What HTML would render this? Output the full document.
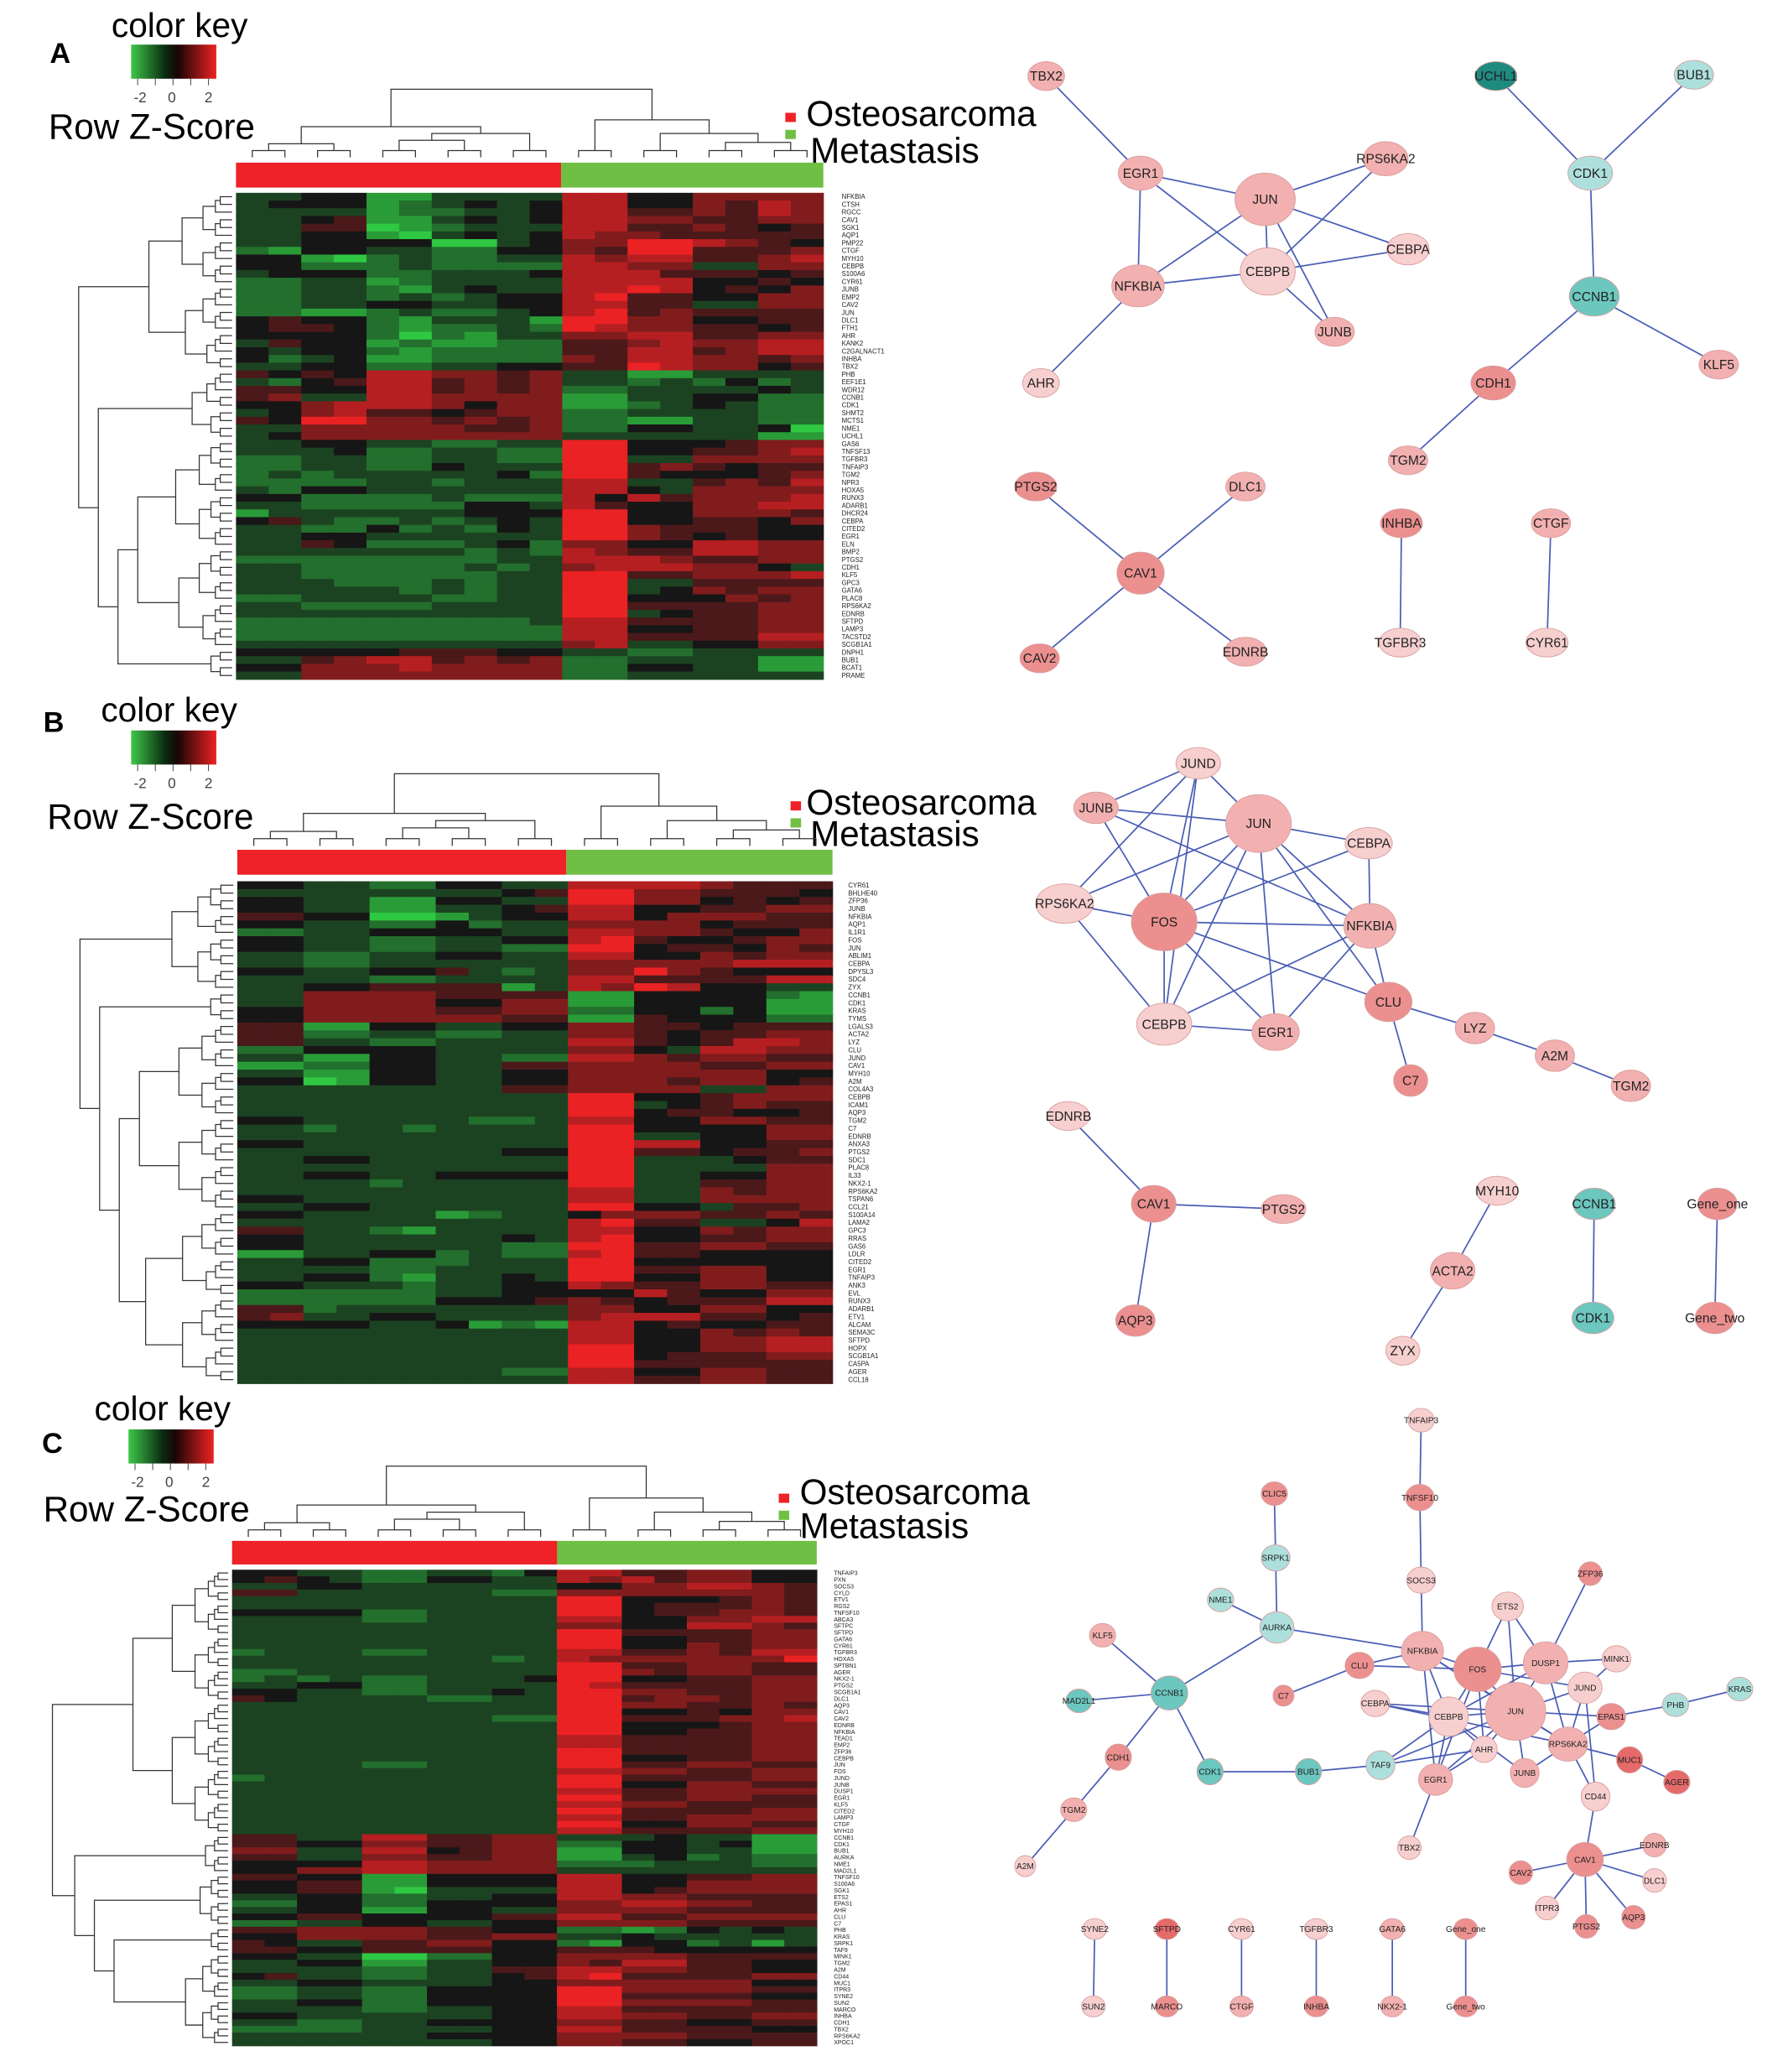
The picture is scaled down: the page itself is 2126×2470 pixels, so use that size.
<!DOCTYPE html>
<html><head><meta charset="utf-8"><style>
html,body{margin:0;padding:0;background:#fff;}
svg{display:block;}
text{font-family:"Liberation Sans",sans-serif;}
</style></head><body>
<svg id="fig" width="2126" height="2470" viewBox="0 0 1360 1580" xmlns="http://www.w3.org/2000/svg">
<rect width="1360" height="1580" fill="#fff"/>
</svg>
<script>
const NS="http://www.w3.org/2000/svg";
const svg=document.getElementById('fig');
function el(tag,attrs,parent,txt){const e=document.createElementNS(NS,tag);for(const k in attrs)e.setAttribute(k,attrs[k]);if(txt!==undefined)e.textContent=txt;(parent||svg).appendChild(e);return e;}

// ===== heatmap data (codes 0..8 => z -2..+2; 10 osteosarcoma cols + 8 metastasis cols) =====
const rowsA=["334411333377446666","344412343477446576","333312233477556576","334511343477665566","335501233377556545","334410343476655555","334444003466887654","214433224465885556","441023223376775567","442223222277663366","344422333477755545","223312333377774454","223321343377874546","223323234478554466","223344334477553366","221123223478565555","454421333188664455","455421223287665545","444420213366775566","354412112255676677","434421222255775677","423411222265776656","334422334455876645","545477665633113333","324577565633232423","554477565622333343","563377666611334422","446777646611234322","346755456622333322","548866565622113322","336666655622443340","346666666633333311","334433223388444566","333422332288445567","223322332288336666","223322433388565455","232333334288544456","222233233377335657","324433333377436666","442222322274756667","332222244375446677","133333344488446665","453223234388445546","332242324388655544","334433333388654544","335422234266447766","333333323276557766","222222223377765566","332222232367776643","332222223388556667","333222323388335555","333332323388346566","223333223388444656","332222333388555566","333333333388345566","222222222377555566","222222222277445566","222222222277555577","333333333367334466","444445554433223333","335677565622333311","446667666622443311","336666666622333333"];
const labelsA=["NFKBIA","CTSH","RGCC","CAV1","SGK1","AQP1","PMP22","CTGF","MYH10","CEBPB","S100A6","CYR61","JUNB","EMP2","CAV2","JUN","DLC1","FTH1","AHR","KANK2","C2GALNACT1","INHBA","TBX2","PHB","EEF1E1","WDR12","CCNB1","CDK1","SHMT2","MCTS1","NME1","UCHL1","GAS6","TNFSF13","TGFBR3","TNFAIP3","TGM2","NPR3","HOXA5","RUNX3","ADARB1","DHCR24","CEBPA","CITED2","EGR1","ELN","BMP2","PTGS2","CDH1","KLF5","GPC3","GATA6","PLAC8","RPS6KA2","EDNRB","SFTPD","LAMP3","TACSTD2","SCGB1A1","DNPH1","BUB1","BCAT1","PRAME"];
const rowsB=["443322443377776555","333333334588665554","443311443388664545","443311334577445566","554400134477466655","443322423366664555","223344443377665446","443322334478544566","443322332288455465","332233443377446566","332233333366666777","443344532366865444","333322333377555577","334455551376874433","336666555511444421","336666446611444411","446666556622442411","446666665511544422","551144334466554555","552233223366545566","553322333377545776","224444333366437766","331144332277656655","112244335566665566","331144334466666644","440144334466656645","333333335566663366","333333333388445666","333333333388345655","333333333388455445","443333322377446655","332332333388444466","333333333388334466","443333333388774455","333333334488554556","334433333388333455","333333333388333366","334433444488334466","333323333388335566","333333333377336566","443333333377336666","334433333388443556","443333123346665565","333333333378553347","553321333377446566","443333334378445566","443333332288556655","113344232278554444","334422233388444444","333322333388556644","334421334388446644","443332334476556655","222222334444754466","222222444565455577","552333333366446644","563344333367775545","444433412177454455","333333333377446565","333333333377446677","333333333388446677","333333333388455566","333333333388555555","333333332277446655","333333333377556655"];
const labelsB=["CYR61","BHLHE40","ZFP36","JUNB","NFKBIA","AQP1","IL1R1","FOS","JUN","ABLIM1","CEBPA","DPYSL3","SDC4","ZYX","CCNB1","CDK1","KRAS","TYMS","LGALS3","ACTA2","LYZ","CLU","JUND","CAV1","MYH10","A2M","COL4A3","CEBPB","ICAM1","AQP3","TGM2","C7","EDNRB","ANXA3","PTGS2","SDC1","PLAC8","IL33","NKX2-1","RPS6KA2","TSPAN6","CCL21","S100A14","LAMA2","GPC3","RRAS","GAS6","LDLR","CITED2","EGR1","TNFAIP3","ANK3","EVL","RUNX3","ADARB1","ETV1","ALCAM","SEMA3C","SFTPD","HOPX","SCGB1A1","CA5PA","AGER","CCL18"];
const rowsC=["443322332477556644","454322443376756644","334433333344667765","553333332266666665","333333333388444565","333333333388455565","444422333388455665","333322333377446677","333333333366447765","333333333388555566","333333333388445566","333333333388446566","233322333377556577","333333332376666668","333333333388556655","223333333388656655","232322333488445566","334422333387555566","443322334388665566","543333223388566566","333333333388665565","333333333388445466","333333332288555667","333333333388444566","333333333388445566","333333333377555566","333333333377555566","333333333388555566","333333333388445566","333322333388556655","333333333377665566","233333333388555566","333333333388446655","333333333377556666","333333333388556655","333333333377665555","333333333388555566","333333333377556666","333333333388446655","333333333377555566","553377556633343311","554466556622443411","663377456611443311","553366556611342322","444477666622233322","446677666633333333","554411444477445566","445511444477446666","445510333377456666","334422334477665555","224422444466776655","334411443366665555","445544445577556666","223344334466665555","556666554422124343","446666556633433333","543355664421442313","554455554455544444","443300224466665555","334411334465775544","333322335577665544","453322334578555566","334433334466666644","223322444488666655","223322444488555544","334422444488666655","333322334477555555","443333334477665566","332233444466554455","222233334477555544","333333444466665555","333333334466554455"];
const labelsC=["TNFAIP3","PXN","SOCS3","CYLD","ETV1","RGS2","TNFSF10","ABCA3","SFTPC","SFTPD","GATA6","CYR61","TGFBR3","HOXA5","SPTBN1","AGER","NKX2-1","PTGS2","SCGB1A1","DLC1","AQP3","CAV1","CAV2","EDNRB","NFKBIA","TEAD1","EMP2","ZFP36","CEBPB","JUN","FOS","JUND","JUNB","DUSP1","EGR1","KLF5","CITED2","LAMP3","CTGF","MYH10","CCNB1","CDK1","BUB1","AURKA","NME1","MAD2L1","TNFSF10","S100A6","SGK1","ETS2","EPAS1","AHR","CLU","C7","PHB","KRAS","SRPK1","TAF9","MINK1","TGM2","A2M","CD44","MUC1","ITPR3","SYNE2","SUN2","MARCO","INHBA","CDH1","TBX2","RPS6KA2","XPOC1"];

function cellColor(c){const v=(c-4)/4,t=Math.abs(v);
 if(v<0)return `rgb(${Math.round(22+25*t)},${Math.round(22+178*t)},${Math.round(22+45*t)})`;
 return `rgb(${Math.round(22+213*t)},${Math.round(22+12*t)},${Math.round(22+14*t)})`;}

function heatmap(id,x0,y0,x1,y1,rows,labels,labelX,lfs,splits){
 const g=el('g',{},svg);
 
 
 const nr=rows.length,nc=18,cw=(x1-x0)/nc,rh=(y1-y0)/nr;
 rows.forEach((r,i)=>{for(let j=0;j<nc;j++){
  const c=el('rect',{x:(x0+j*cw).toFixed(2),y:(y0+i*rh).toFixed(2),width:(cw+0.4).toFixed(2),height:(rh+0.4).toFixed(2),fill:cellColor(+r[j])},g);
  
  }});
 const lg=el('g',{},svg);
 
 
 labels.forEach((l,i)=>{el('text',{x:labelX,y:(y0+(i+0.5)*(y1-y0)/labels.length+lfs*0.35).toFixed(2),'font-size':lfs,fill:'#222'},lg,l);});
 // row dendrogram
 const dg=el('g',{fill:'none',stroke:'#333','stroke-width':0.8},svg);
 
 
 const dr=x0-3;
 const maxN=Math.max(...splits.concat([nr]).map((s,k,a)=>s-(k?a[k-1]:0)));
 function tree(lo,hi){
  if(lo===hi)return [dr,y0+(lo+0.5)*rh];
  const mid=Math.floor((lo+hi)/2);
  const a=tree(lo,mid),b=tree(mid+1,hi);
  const n=hi-lo+1;const x=dr-4-70*Math.pow((n-1)/maxN,0.8);
  el('path',{d:`M${a[0]},${a[1]}H${x}V${b[1]}H${b[0]}`},dg);
  return [x,(a[1]+b[1])/2];}
 let lo=0;const pts=[];
 splits.concat([nr]).forEach(s=>{pts.push(tree(lo,s-1));lo=s;});
 let cur=pts[pts.length-1];
 const xs=[x0-90,x0-105,x0-120,x0-137];
 for(let k=pts.length-2;k>=0;k--){const x=xs[Math.min(pts.length-2-k,3)];
  el('path',{d:`M${pts[k][0]},${pts[k][1]}H${x}V${cur[1]}H${cur[0]}`},dg);cur=[x,(pts[k][1]+cur[1])/2];}
}
function colDendro(id,x0,cw,ytop,ybot){
 const g=el('g',{fill:'none',stroke:'#333','stroke-width':0.8},svg);
 
 
 const H=ybot-ytop;
 function lf(i){return [x0+(i+0.5)*cw,ybot];}
 function join(a,b,h){const y=ybot-h*H;el('path',{d:`M${a[0]},${a[1]}V${y}H${b[0]}V${b[1]}`},g);return [(a[0]+b[0])/2,y];}
 const p=[];for(let i=0;i<10;i+=2)p.push(join(lf(i),lf(i+1),0.1));
 const o1=join(p[0],p[1],0.2),o2=join(p[2],p[3],0.25),o3=join(o2,p[4],0.35),o=join(o1,o3,0.45);
 const q=[];for(let i=10;i<18;i+=2)q.push(join(lf(i),lf(i+1),0.1));
 const m1=join(q[2],q[3],0.22),m2=join(q[1],m1,0.35),m=join(q[0],m2,0.55);
 join(o,m,1.0);
}
function annotBar(id,x0,xs,x1,y0,y1){
 const a=el('rect',{x:x0,y:y0,width:xs-x0,height:y1-y0,fill:'#ee2227'});
 
 const b=el('rect',{x:xs,y:y0,width:x1-xs,height:y1-y0,fill:'#6fbf44'});
 
}
function keyLegend(id,letter,lx,ly,ckx,cky,bx,by,rzx,rzy,sqx,sqy,osx,osy,mtx,mty){
 const g=el('g',{},svg);
 
 
 const t=el('text',{x:lx,y:ly,'font-size':22,'font-weight':'bold','font-family':'Liberation Serif, serif'},g,letter);
 
 el('text',{x:ckx,y:cky,'font-size':26},g,'color key');
 const gid='grad'+id;const defs=el('defs',{},g);const lg=el('linearGradient',{id:gid},defs);
 [['0','#3ec84a'],['0.4','#0a2a10'],['0.55','#1a0505'],['1','#ee2222']].forEach(s=>el('stop',{offset:s[0],'stop-color':s[1]},lg));
 el('rect',{x:bx,y:by,width:65,height:26,fill:`url(#${gid})`},g);
 [0,1,2,3,4].forEach(i=>el('line',{x1:bx+5+i*13.5,x2:bx+5+i*13.5,y1:by+26,y2:by+31,stroke:'#555','stroke-width':0.7},g));
 [['-2',bx+2],['0',bx+28],['2',bx+56]].forEach(s=>el('text',{x:s[1],y:by+44,'font-size':11,fill:'#444'},g,s[0]));
 el('text',{x:rzx,y:rzy,'font-size':27},g,'Row Z-Score');
 const lgd=el('g',{},svg);
 
 
 el('rect',{x:sqx,y:sqy,width:8,height:7,fill:'#ee2227'},lgd);
 el('rect',{x:sqx,y:sqy+13,width:8,height:7,fill:'#6fbf44'},lgd);
 el('text',{x:osx,y:osy,'font-size':27},lgd,'Osteosarcoma');
 el('text',{x:mtx,y:mty,'font-size':27},lgd,'Metastasis');
}

// Panel A
keyLegend('a','A',38,48,85,28,100,34,37,106,599,86,615,96,618,124);
colDendro('a',180,448/18,68,120);
annotBar('a',180,428,628,124,143);
heatmap('a',180,147,628,518,rowsA,labelsA,642,5,[23,32,59]);
// Panel B
keyLegend('b','B',33,558,77,550,100,557,36,632,603,611,615,621,618,645);
colDendro('b',181,454/18,590,645);
annotBar('b',181,432,635,648,667);
heatmap('b',181,672,635,1055,rowsB,labelsB,647,5,[14,18,42]);
// Panel C
keyLegend('c','C',32,1108,72,1083,98,1090,33,1160,594,1139,610,1147,610,1173);
colDendro('c',177,446/18,1118,1172);
annotBar('c',177,425,623,1175,1193);
heatmap('c',177,1197,623,1560,rowsC,labelsC,636,4.5,[40,46,54,58]);

// ===== networks =====
const COL={lp:'#f7cfcf',p:'#f2b0b0',r:'#eb8f8f',dr:'#e56a6a',t:'#6cc7bf',lt:'#ade0dd',dt:'#1f8a80'};
const netA_nodes=[["TBX2",798,58,14,11,'p'],["EGR1",870,132,17,13,'p'],["JUN",965,152,23,20,'p'],["RPS6KA2",1057,121,17,13,'p'],["CEBPB",967,207,21,18,'lp'],["CEBPA",1074,190,16,12,'lp'],["NFKBIA",868,218,20,16,'p'],["JUNB",1018,253,15,11,'p'],["AHR",794,292,14,11,'lp'],["UCHL1",1141,58,16,11,'dt'],["BUB1",1292,57,15,11,'lt'],["CDK1",1213,132,17,13,'lt'],["CCNB1",1216,226,19,15,'t'],["KLF5",1311,278,15,11,'p'],["CDH1",1139,292,17,13,'r'],["TGM2",1074,351,15,11,'p'],["PTGS2",790,371,16,11,'r'],["DLC1",950,371,15,11,'p'],["CAV1",870,437,18,16,'r'],["CAV2",793,502,15,11,'r'],["EDNRB",950,497,16,11,'p'],["INHBA",1069,399,16,11,'r'],["TGFBR3",1068,490,16,11,'lp'],["CTGF",1183,399,15,11,'p'],["CYR61",1180,490,16,11,'lp']];
const netA_edges=[["TBX2","EGR1"],["EGR1","JUN"],["EGR1","CEBPB"],["EGR1","NFKBIA"],["JUN","NFKBIA"],["JUN","CEBPB"],["JUN","RPS6KA2"],["JUN","JUNB"],["JUN","CEBPA"],["CEBPB","NFKBIA"],["CEBPB","RPS6KA2"],["CEBPB","CEBPA"],["CEBPB","JUNB"],["NFKBIA","AHR"],["UCHL1","CDK1"],["BUB1","CDK1"],["CDK1","CCNB1"],["CCNB1","KLF5"],["CCNB1","CDH1"],["CDH1","TGM2"],["PTGS2","CAV1"],["DLC1","CAV1"],["CAV1","CAV2"],["CAV1","EDNRB"],["INHBA","TGFBR3"],["CTGF","CYR61"]];
const netB_nodes=[["JUND",914,582,17,12,'lp'],["JUNB",836,616,17,12,'p'],["JUN",960,628,25,22,'p'],["CEBPA",1044,643,18,12,'lp'],["RPS6KA2",812,689,22,15,'lp'],["FOS",888,703,25,22,'r'],["NFKBIA",1045,706,20,17,'p'],["CLU",1059,764,18,15,'r'],["CEBPB",888,781,21,16,'lp'],["EGR1",973,787,18,14,'p'],["LYZ",1125,784,15,12,'p'],["A2M",1186,805,15,12,'p'],["TGM2",1244,828,15,12,'p'],["C7",1076,824,13,12,'r'],["EDNRB",815,851,16,11,'lp'],["CAV1",880,918,17,14,'r'],["PTGS2",979,922,17,11,'p'],["AQP3",866,1007,15,12,'r'],["MYH10",1142,908,16,11,'lp'],["ACTA2",1108,969,17,14,'p'],["ZYX",1070,1030,13,11,'lp'],["CCNB1",1216,918,16,12,'t'],["CDK1",1215,1005,16,12,'t'],["Gene_one",1310,918,15,12,'r'],["Gene_two",1308,1005,15,12,'r']];
const netB_edges=[["JUND","JUNB"],["JUND","JUN"],["JUND","FOS"],["JUND","CEBPB"],["JUNB","JUN"],["JUNB","FOS"],["JUNB","NFKBIA"],["JUN","CEBPA"],["JUN","RPS6KA2"],["JUN","FOS"],["JUN","NFKBIA"],["JUN","CEBPB"],["JUN","EGR1"],["JUN","CLU"],["CEBPA","NFKBIA"],["CEBPA","FOS"],["RPS6KA2","FOS"],["RPS6KA2","CEBPB"],["RPS6KA2","JUND"],["FOS","NFKBIA"],["FOS","CEBPB"],["FOS","EGR1"],["FOS","CLU"],["NFKBIA","CEBPB"],["NFKBIA","EGR1"],["NFKBIA","CLU"],["CEBPB","EGR1"],["CLU","LYZ"],["CLU","C7"],["LYZ","A2M"],["A2M","TGM2"],["EDNRB","CAV1"],["CAV1","PTGS2"],["CAV1","AQP3"],["MYH10","ACTA2"],["ACTA2","ZYX"],["CCNB1","CDK1"],["Gene_one","Gene_two"]];
const netC_nodes=[["TNFAIP3",1084,1083,10,9,'lp'],["TNFSF10",1083,1142,11,10,'r'],["CLIC5",972,1139,10,9,'r'],["SRPK1",973,1188,11,10,'lt'],["SOCS3",1084,1205,11,10,'lp'],["NME1",931,1220,10,9,'lt'],["AURKA",974,1241,13,12,'lt'],["ZFP36",1213,1200,9,9,'r'],["ETS2",1150,1225,12,11,'lp'],["KLF5",841,1247,10,9,'p'],["NFKBIA",1085,1259,16,15,'p'],["FOS",1127,1273,18,17,'r'],["DUSP1",1179,1268,17,16,'p'],["MINK1",1233,1265,11,10,'lp'],["CLU",1037,1270,11,10,'r'],["CCNB1",892,1291,14,13,'t'],["MAD2L1",823,1297,10,9,'t'],["C7",979,1293,8,8,'r'],["JUND",1209,1287,13,12,'lp'],["CEBPA",1049,1299,11,10,'lp'],["KRAS",1327,1288,10,9,'lt'],["PHB",1278,1300,10,9,'lt'],["CEBPB",1105,1309,15,15,'lp'],["JUN",1156,1305,23,22,'p'],["EPAS1",1229,1309,11,10,'r'],["CDH1",853,1340,10,10,'r'],["RPS6KA2",1196,1330,15,13,'p'],["AHR",1132,1334,10,10,'lp'],["MUC1",1243,1342,10,10,'dr'],["CDK1",923,1351,10,10,'t'],["BUB1",998,1351,10,10,'t'],["TAF9",1053,1346,11,11,'lt'],["EGR1",1095,1357,13,12,'p'],["JUNB",1163,1352,11,11,'p'],["AGER",1279,1359,10,9,'dr'],["CD44",1217,1370,11,11,'lp'],["TGM2",819,1380,10,9,'p'],["TBX2",1075,1409,9,9,'lp'],["CAV1",1209,1418,14,13,'r'],["EDNRB",1262,1407,9,9,'p'],["CAV2",1160,1428,9,9,'r'],["DLC1",1262,1434,9,9,'lp'],["A2M",782,1423,8,8,'lp'],["ITPR3",1180,1455,9,9,'lp'],["PTGS2",1210,1469,9,9,'r'],["AQP3",1246,1462,9,9,'r'],["SYNE2",835,1471,9,8,'lp'],["SUN2",834,1530,9,8,'lp'],["SFTPD",890,1471,9,8,'dr'],["MARCO",890,1530,9,8,'r'],["CYR61",947,1471,9,8,'lp'],["CTGF",947,1530,9,8,'p'],["TGFBR3",1004,1471,9,8,'lp'],["INHBA",1004,1530,9,8,'r'],["GATA6",1062,1471,9,8,'p'],["NKX2-1",1062,1530,9,8,'p'],["Gene_one",1118,1471,9,8,'r'],["Gene_two",1118,1530,9,8,'r']];
const netC_edges=[["TNFAIP3","TNFSF10"],["TNFSF10","SOCS3"],["SOCS3","NFKBIA"],["CLIC5","SRPK1"],["SRPK1","AURKA"],["NME1","AURKA"],["AURKA","CCNB1"],["AURKA","NFKBIA"],["KLF5","CCNB1"],["MAD2L1","CCNB1"],["CCNB1","CDH1"],["CCNB1","CDK1"],["CDH1","TGM2"],["TGM2","A2M"],["CDK1","BUB1"],["BUB1","TAF9"],["TAF9","JUN"],["TAF9","AHR"],["TAF9","CEBPB"],["C7","CLU"],["CLU","NFKBIA"],["CLU","FOS"],["NFKBIA","FOS"],["NFKBIA","JUN"],["NFKBIA","CEBPB"],["NFKBIA","EGR1"],["NFKBIA","RPS6KA2"],["FOS","DUSP1"],["FOS","JUN"],["FOS","CEBPB"],["FOS","JUND"],["FOS","ETS2"],["FOS","EGR1"],["FOS","AHR"],["DUSP1","ETS2"],["DUSP1","ZFP36"],["DUSP1","MINK1"],["DUSP1","JUN"],["DUSP1","RPS6KA2"],["DUSP1","CEBPB"],["JUND","JUN"],["JUND","MINK1"],["JUND","RPS6KA2"],["JUN","CEBPB"],["JUN","CEBPA"],["JUN","EPAS1"],["JUN","RPS6KA2"],["JUN","JUNB"],["JUN","EGR1"],["JUN","AHR"],["JUN","ETS2"],["CEBPA","CEBPB"],["CEBPA","RPS6KA2"],["CEBPB","EGR1"],["CEBPB","AHR"],["CEBPB","JUNB"],["EPAS1","PHB"],["PHB","KRAS"],["EPAS1","RPS6KA2"],["RPS6KA2","MUC1"],["MUC1","AGER"],["RPS6KA2","CD44"],["RPS6KA2","JUNB"],["JUND","CD44"],["EGR1","TBX2"],["EGR1","AHR"],["CD44","CAV1"],["CAV1","EDNRB"],["CAV1","CAV2"],["CAV1","DLC1"],["CAV1","ITPR3"],["CAV1","PTGS2"],["CAV1","AQP3"],["SYNE2","SUN2"],["SFTPD","MARCO"],["CYR61","CTGF"],["TGFBR3","INHBA"],["GATA6","NKX2-1"],["Gene_one","Gene_two"]];

function network(id,nodes,edges,fs){
 const g=el('g',{},svg);
 
 
 const map={};nodes.forEach(n=>map[n[0]]=n);
 edges.forEach(e=>{const a=map[e[0]],b=map[e[1]];
  const l=el('line',{x1:a[1],y1:a[2],x2:b[1],y2:b[2],stroke:'#4a5db5','stroke-width':1.1},g);
  
  });
 nodes.forEach(n=>{const ng=el('g',{},g);
  
  
  el('ellipse',{cx:n[1],cy:n[2],rx:n[3],ry:n[4],fill:COL[n[5]],stroke:'#d9a0a0','stroke-width':0.6},ng);
  el('text',{x:n[1],y:n[2]+fs*0.35,'font-size':fs,'text-anchor':'middle',fill:'#222'},ng,n[0]);});
}
network('a',netA_nodes,netA_edges,10);
network('b',netB_nodes,netB_edges,10);
network('c',netC_nodes,netC_edges,6.5);
</script>
</body></html>
